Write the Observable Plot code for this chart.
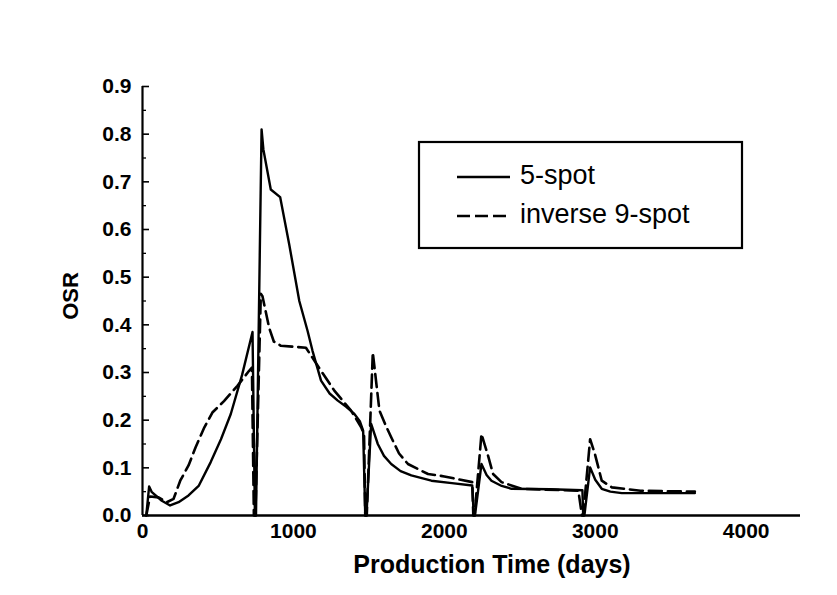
<!DOCTYPE html>
<html>
<head>
<meta charset="utf-8">
<script src="https://cdn.jsdelivr.net/npm/d3@7"></script>
<script src="https://cdn.jsdelivr.net/npm/@observablehq/plot@0.6"></script>
<style>
  html, body { margin: 0; padding: 0; background: #fff; }
  #chart { width: 837px; height: 595px; }
</style>
</head>
<body>
<div id="chart"></div>
<script>
// 5-spot series (days, OSR)
const days5 = [25,44,62,128,183,239,305,372,452,520,585,660,729,745,752,789,801,850,912,972,1039,1094,1127,1183,1240,1294,1350,1404,1440,1462,1476,1484,1515,1559,1600,1648,1710,1781,1914,2050,2185,2195,2203,2246,2280,2312,2380,2445,2700,2915,2920,2928,2966,3000,3043,3100,3176,3400,3660];
const osr5  = [0,0.061,0.049,0.031,0.021,0.028,0.042,0.062,0.112,0.16,0.213,0.295,0.385,0,0,0.81,0.768,0.684,0.668,0.569,0.45,0.387,0.345,0.283,0.256,0.241,0.228,0.213,0.198,0.178,0,0,0.192,0.15,0.125,0.108,0.093,0.084,0.073,0.068,0.063,0,0,0.108,0.085,0.073,0.062,0.056,0.055,0.053,0,0,0.101,0.075,0.056,0.05,0.047,0.047,0.047];

// inverse 9-spot series (days, OSR)
const days9 = [25,50,106,162,206,250,305,352,410,463,540,629,705,725,738,748,784,795,839,870,917,1083,1161,1271,1382,1449,1468,1476,1486,1526,1570,1610,1648,1700,1759,1892,2000,2185,2192,2200,2246,2290,2323,2379,2512,2888,2912,2920,2966,2997,3043,3110,3300,3660];
const osr9  = [0,0.04,0.038,0.028,0.035,0.073,0.105,0.143,0.185,0.216,0.24,0.272,0.303,0.31,0,0,0.465,0.46,0.394,0.365,0.356,0.352,0.314,0.262,0.22,0.185,0.17,0,0,0.342,0.22,0.19,0.164,0.13,0.108,0.087,0.082,0.07,0,0,0.171,0.125,0.087,0.07,0.056,0.052,0,0,0.16,0.13,0.073,0.059,0.052,0.05];

const seriesNames = ["5-spot", "inverse 9-spot"];
const xTicks = [0, 1000, 2000, 3000, 4000];
const yTicks = [0, 0.1, 0.2, 0.3, 0.4, 0.5, 0.6, 0.7, 0.8, 0.9];
const yMinor = [0.05, 0.15, 0.25, 0.35, 0.45, 0.55, 0.65, 0.75, 0.85];
const xTitle = "Production Time (days)";
const yTitle = "OSR";

const data5 = days5.map((d, i) => ({day: d, osr: osr5[i]}));
const data9 = days9.map((d, i) => ({day: d, osr: osr9[i]}));

const font = "'Liberation Sans', Arial, sans-serif";

const chart = Plot.plot({
  width: 837,
  height: 595,
  marginLeft: 142,
  marginRight: 37,
  marginTop: 86,
  marginBottom: 80,
  style: {fontFamily: font, background: "#fff", color: "#000"},
  x: {domain: [0, 4360]},
  y: {domain: [0, 0.9]},
  marks: [
    Plot.axisY(yTicks, {tickSize: 0, tickPadding: 11, tickFormat: d3.format(".1f"), fontSize: 21, fontWeight: "bold", label: null}),
    Plot.axisY(yTicks, {tickSize: 7, dx: 7, text: null, strokeWidth: 1.6, label: null}),
    Plot.axisY(yMinor, {tickSize: 4, dx: 4, text: null, strokeWidth: 1.3, label: null}),
    Plot.axisX(xTicks, {tickSize: 0, tickPadding: 8, tickFormat: d => String(d), fontSize: 21, fontWeight: "bold", label: null}),
    Plot.ruleX([0], {stroke: "#000", strokeWidth: 2.2}),
    Plot.ruleY([0], {stroke: "#000", strokeWidth: 2.6}),
    Plot.line(data5, {x: "day", y: "osr", stroke: "#000", strokeWidth: 2.4}),
    Plot.line(data9, {x: "day", y: "osr", stroke: "#000", strokeWidth: 2.6, strokeDasharray: "13,6"})
  ]
});

document.getElementById("chart").appendChild(chart);

const svg = d3.select(chart);
// axis titles
svg.append("text")
  .attr("x", 492).attr("y", 573)
  .attr("text-anchor", "middle")
  .style("font-family", font).style("font-weight", "bold").style("font-size", "25px")
  .attr("fill", "#000")
  .text(xTitle);
svg.append("text")
  .attr("transform", "translate(72,296) rotate(-90)")
  .attr("text-anchor", "middle")
  .attr("dominant-baseline", "middle")
  .style("font-family", font).style("font-weight", "bold").style("font-size", "22px")
  .attr("fill", "#000")
  .text(yTitle);

// legend box
const lg = svg.append("g").style("font-family", font);
lg.append("rect").attr("x", 419).attr("y", 142).attr("width", 323).attr("height", 106)
  .attr("fill", "#fff").attr("stroke", "#000").attr("stroke-width", 2.2);
const rows = [{y: 177, dash: null}, {y: 216, dash: "13,5"}];
rows.forEach((r, i) => {
  lg.append("line").attr("x1", 457).attr("x2", 510).attr("y1", r.y).attr("y2", r.y)
    .attr("stroke", "#000").attr("stroke-width", 2.5)
    .attr("stroke-dasharray", r.dash);
  lg.append("text").attr("x", 520).attr("y", r.y)
    .attr("text-anchor", "start")
    .attr("dominant-baseline", "middle")
    .style("font-size", "27px").attr("fill", "#000")
    .text(seriesNames[i]);
});
</script>
</body>
</html>
